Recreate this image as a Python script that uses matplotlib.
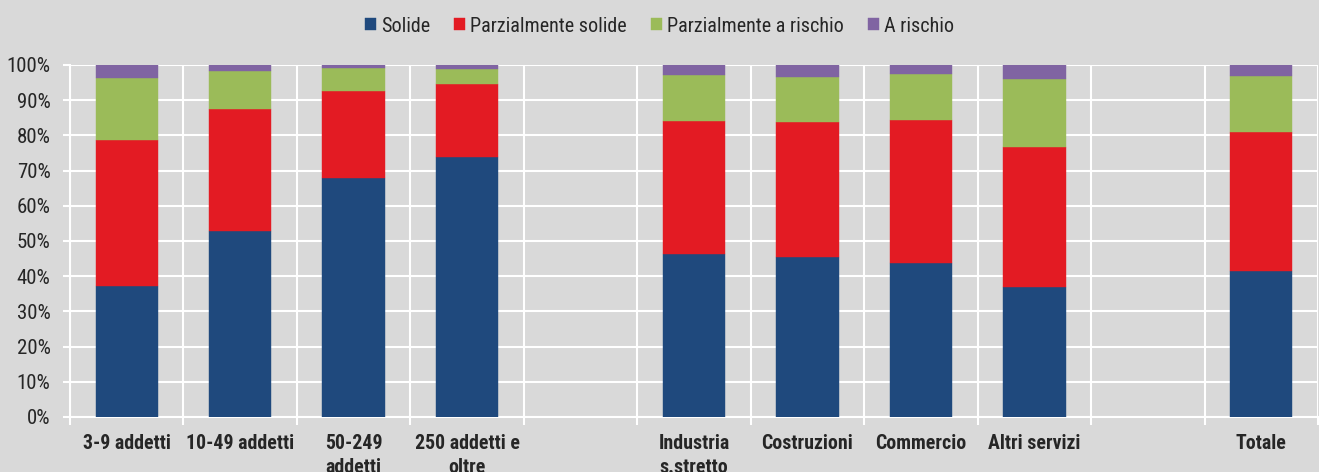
import matplotlib
matplotlib.use("Agg")
import matplotlib.pyplot as plt
import numpy as np

categories = ["3-9 addetti", "10-49 addetti", "50-249\naddetti", "250 addetti e\noltre", "",
              "Industria\ns.stretto", "Costruzioni", "Commercio", "Altri servizi", "", "Totale"]
series_names = ["Solide", "Parzialmente solide", "Parzialmente a rischio", "A rischio"]
solide = [37.3, 52.9, 68.0, 73.9, np.nan, 46.2, 45.5, 43.7, 37.0, np.nan, 41.4]
parz_solide = [41.4, 34.7, 24.7, 20.8, np.nan, 38.0, 38.2, 40.6, 39.8, np.nan, 39.5]
parz_rischio = [17.5, 10.7, 6.5, 4.1, np.nan, 12.9, 13.0, 13.1, 19.2, np.nan, 15.9]
a_rischio = [3.8, 1.7, 0.8, 1.2, np.nan, 2.9, 3.3, 2.6, 4.0, np.nan, 3.2]
colors = ["#1F497D", "#E31B23", "#9BBB59", "#8064A2"]

plt.rcParams['font.family'] = ['Roboto Condensed', 'DejaVu Sans']

bg = "#D9D9D9"
txt = "#262626"
fig = plt.figure(figsize=(13.19, 4.72), dpi=100, facecolor=bg)
ax = fig.add_axes([70/1319, 1-417/472, 1248/1319, (417-65)/472])
ax.set_facecolor(bg)

x = np.arange(len(categories))
data = [np.array(s, dtype=float) for s in (solide, parz_solide, parz_rischio, a_rischio)]
valid = ~np.isnan(data[0])
bottom = np.zeros(valid.sum())
for v, name, c in zip(data, series_names, colors):
    ax.bar(x[valid], v[valid], 0.55, bottom=bottom, color=c, label=name, zorder=3,
           edgecolor=c, linewidth=0.3)
    bottom = bottom + v[valid]

ax.set_xlim(-0.5, len(categories) - 0.5)
ax.set_ylim(0, 100)
ax.set_yticks(np.arange(0, 101, 10))
ax.set_yticklabels([f"{v}%" for v in range(0, 101, 10)], fontsize=15, color=txt)
ax.set_xticks(x)
ax.set_xticklabels(categories, fontsize=14.3, fontweight='bold', color=txt, linespacing=1.3)
ax.set_xticks(np.arange(-0.5, len(categories), 1), minor=True)
ax.tick_params(axis='x', which='major', length=0, pad=12.5)
ax.tick_params(axis='x', which='minor', length=5.5, width=1.5, color='white')
ax.tick_params(axis='y', length=5, width=1.5, color='white', pad=9)
ax.grid(axis='y', color='white', linewidth=1.5, zorder=0)
ax.grid(axis='x', which='minor', color='white', linewidth=1.5, zorder=0)
for s in ['top', 'right']:
    ax.spines[s].set_visible(False)
for s in ['left', 'bottom']:
    ax.spines[s].set_color('white')
    ax.spines[s].set_linewidth(1.5)

leg = fig.legend(loc='center', bbox_to_anchor=(0.5, 1-26/472), ncol=4, frameon=False,
                 fontsize=14.5, handlelength=0.55, handleheight=0.55, handletextpad=0.25,
                 columnspacing=1.2)
for t in leg.get_texts():
    t.set_color(txt)

fig.savefig("out.png", dpi=100, facecolor=bg)
